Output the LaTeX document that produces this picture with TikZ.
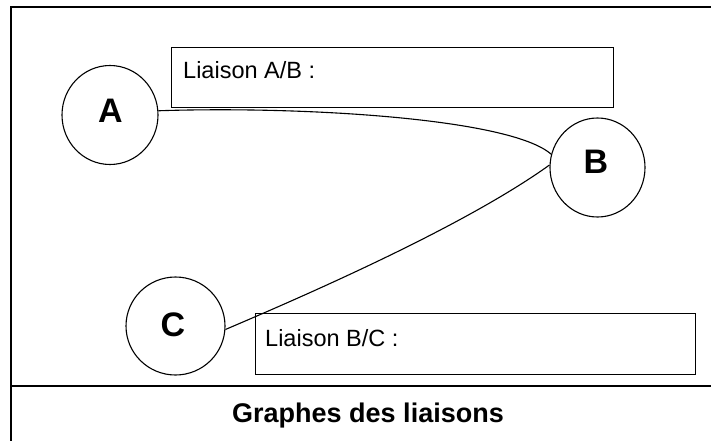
\documentclass[tikz,border=0pt]{standalone}
\usepackage{fontspec}
\setmainfont{Liberation Sans}
\usetikzlibrary{shapes.geometric}
\tikzset{
  part/.style={draw, ellipse, line width=1.1pt, inner sep=0pt, minimum width=96pt, minimum height=99pt},
  letter/.style={font=\fontsize{34}{40}\selectfont\bfseries, inner sep=0pt},
  liaisonbox/.style={draw, rectangle, line width=1.4pt, inner sep=0pt, anchor=north west},
  liaisontext/.style={font=\fontsize{23.5}{28}\selectfont, inner sep=0pt, anchor=base west},
  titletext/.style={font=\fontsize{27}{32}\selectfont\bfseries, inner sep=0pt, anchor=base},
  frame/.style={line width=1.6pt},
  link/.style={line width=1.1pt}
}
\begin{document}
\begin{tikzpicture}[x=1pt,y=-1pt]
\useasboundingbox (0,0) rectangle (711,441);
% frame
\coordinate (tl) at (11,7);
\coordinate (tr) at (711,7);
\coordinate (bl) at (11,441);
\coordinate (sl) at (11,386);
\coordinate (sr) at (711,386);
\draw[frame] (tr) -- (tl) -- (bl);
\draw[frame] (sl) -- (sr);
% liaison boxes
\node[liaisonbox, minimum width=442pt, minimum height=60pt] (boxAB) at (171,47) {};
\node[liaisontext] (txtAB) at ([xshift=12pt,yshift=-32pt]boxAB.north west) {Liaison A/B :};
\node[liaisonbox, minimum width=440pt, minimum height=61pt] (boxBC) at (255,313) {};
\node[liaisontext] (txtBC) at ([xshift=10pt,yshift=-33pt]boxBC.north west) {Liaison B/C :};
% parts
\node[part, minimum width=96pt, minimum height=99pt] (A) at (110,115) {};
\node[part, minimum width=95pt, minimum height=99pt] (B) at (597.5,167.5) {};
\node[part, minimum width=99pt, minimum height=98pt] (C) at (175.5,326) {};
\node[letter] (Alab) at (110.5,110.5) {A};
\node[letter] (Blab) at (596,161.5) {B};
\node[letter] (Clab) at (173,325) {C};
% links
\draw[link] (A.5) .. controls (300,106) and (510,118) .. (B.164);
\draw[link] (C.-4) .. controls (330,285) and (470,222) .. (B.177);
% title
\node[titletext] (title) at (368,422) {Graphes des liaisons};
\end{tikzpicture}
\end{document}
